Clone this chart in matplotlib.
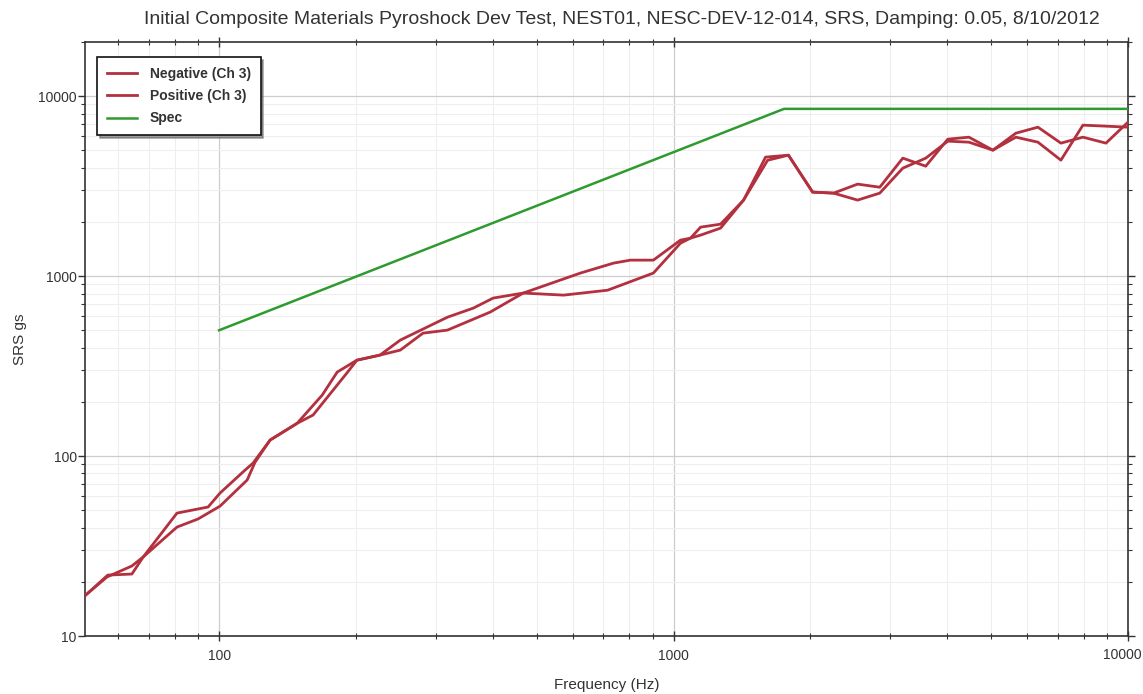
import matplotlib
matplotlib.use("Agg")
import matplotlib.pyplot as plt
from matplotlib.ticker import LogLocator, FixedLocator, FixedFormatter, NullFormatter

plt.rcParams['font.family'] = ['Liberation Sans', 'DejaVu Sans']

# Shock response spectrum, channel 3 (negative and positive), plus the spec line
freq_neg = [50.9, 56.7, 64.3, 68.1, 80.8, 94.6, 100.5, 114.1, 118.8, 129.5, 148.5,
            161, 191, 201, 226, 250.5, 281, 318, 395, 467, 573, 716, 903, 1036,
            1090, 1147, 1269, 1426, 1611, 1790, 2023, 2250, 2541, 2843, 3195,
            3589, 4013, 4466, 5043, 5665, 6336, 7118, 7959, 8943, 10000]
srs_neg = [16.9, 21.3, 24.5, 27.5, 48.2, 52.1, 62.3, 83.6, 91.4, 122.7, 152,
           169, 289, 341, 364, 388, 482, 501, 631, 805, 784, 835, 1040, 1525,
           1626, 1690, 1848, 2645, 4406, 4700, 2930, 2892, 2645, 2892, 3981,
           4524, 5623, 5550, 5012, 5918, 5550, 4409, 6902, 6813, 6725]

freq_pos = [50.9, 56.9, 64.3, 68.1, 80.8, 89.9, 100.5, 115.3, 120, 129.5, 148.5,
            168.6, 182, 201, 226, 250.5, 318, 362.6, 401, 467, 624, 738, 804,
            903, 1036, 1090, 1147, 1269, 1426, 1594, 1790, 2023, 2250, 2541,
            2843, 3195, 3589, 4013, 4466, 5043, 5665, 6336, 7118, 7959, 8943, 10000]
srs_pos = [16.9, 21.8, 22.1, 27.5, 40.3, 44.7, 52.7, 73.6, 92.4, 122.7, 152,
           218, 293, 341, 364, 441, 591, 664, 755, 805, 1040, 1181, 1227,
           1227, 1585, 1626, 1871, 1944, 2645, 4583, 4700, 2930, 2892, 3245,
           3119, 4524, 4083, 5768, 5918, 5012, 6226, 6725, 5483, 5918, 5483, 7171]

freq_spec = [100, 1750, 10000]
srs_spec = [500, 8500, 8500]

x_ticks = [100, 1000, 10000]
x_tick_labels = ['100', '1000', '10000']
y_ticks = [10, 100, 1000, 10000]
y_tick_labels = ['10', '100', '1000', '10000']

title = ("Initial Composite Materials Pyroshock Dev Test, NEST01, "
         "NESC-DEV-12-014, SRS, Damping: 0.05, 8/10/2012")

red = '#b3303e'
green = '#2f9a2f'
ink = '#333333'

fig = plt.figure(figsize=(11.43, 6.94), dpi=100)
ax = fig.add_axes([85 / 1143, 1 - 636 / 694, (1128 - 85) / 1143, (636 - 42) / 694])

ax.plot(freq_neg, srs_neg, color=red, lw=2.0, label='Negative (Ch 3)', zorder=3)
ax.plot(freq_pos, srs_pos, color=red, lw=2.0, label='Positive (Ch 3)', zorder=3)
ax.plot(freq_spec, srs_spec, color=green, lw=1.8, label='Spec', zorder=3)

ax.set_xscale('log')
ax.set_yscale('log')
ax.set_xlim(50.7, 10000)
ax.set_ylim(10, 20000)

# The last x label sits at the right edge of the figure, so it is drawn
# separately, right-aligned against the edge
ax.xaxis.set_major_locator(FixedLocator(x_ticks))
ax.xaxis.set_major_formatter(FixedFormatter(x_tick_labels[:-1] + ['']))
ax.xaxis.set_minor_locator(LogLocator(base=10, subs=range(2, 10)))
ax.xaxis.set_minor_formatter(NullFormatter())
ax.yaxis.set_major_locator(FixedLocator(y_ticks))
ax.yaxis.set_major_formatter(FixedFormatter(y_tick_labels))
ax.yaxis.set_minor_locator(LogLocator(base=10, subs=range(2, 10)))
ax.yaxis.set_minor_formatter(NullFormatter())

ax.annotate(x_tick_labels[-1], xy=(x_ticks[-1], 10), xycoords='data',
            xytext=(14, -12), textcoords='offset pixels',
            ha='right', va='top', fontsize=10, color=ink)

ax.grid(True, which='major', color='#cdcdcd', lw=0.9, zorder=0)
ax.grid(True, which='minor', color='#eeeeee', lw=0.8, zorder=0)
ax.set_axisbelow(True)

for s in ax.spines.values():
    s.set_color(ink)
    s.set_linewidth(1.2)

ax.tick_params(axis='x', which='both', direction='inout', top=True,
               labelsize=10, pad=6, labelcolor=ink)
ax.tick_params(axis='y', which='both', direction='out', right=True,
               labelsize=10, pad=1, labelcolor=ink)
ax.tick_params(axis='x', which='major', length=7, width=1.0, color=ink)
ax.tick_params(axis='x', which='minor', length=5, width=0.8, color=ink)
ax.tick_params(axis='y', which='major', length=5, width=1.0, color=ink)
ax.tick_params(axis='y', which='minor', length=3, width=0.8, color=ink)

ax.set_xlabel('Frequency (Hz)', fontsize=11, labelpad=11, color=ink)
ax.set_ylabel('SRS gs', fontsize=11, labelpad=8, color=ink)
ax.set_title(title, fontsize=14, pad=13, color=ink, x=0.515)

leg = ax.legend(loc='upper left', bbox_to_anchor=(0.0115, 0.9747), borderaxespad=0,
                fontsize=10, frameon=True, fancybox=False, shadow=True,
                handlelength=2.2, borderpad=0.7, labelspacing=0.6,
                handletextpad=0.9)
leg.get_frame().set_edgecolor('#111111')
leg.get_frame().set_linewidth(1.2)
for t in leg.get_texts():
    t.set_fontweight('bold')
    t.set_color(ink)

fig.savefig('out.png', dpi=100, facecolor='white')
